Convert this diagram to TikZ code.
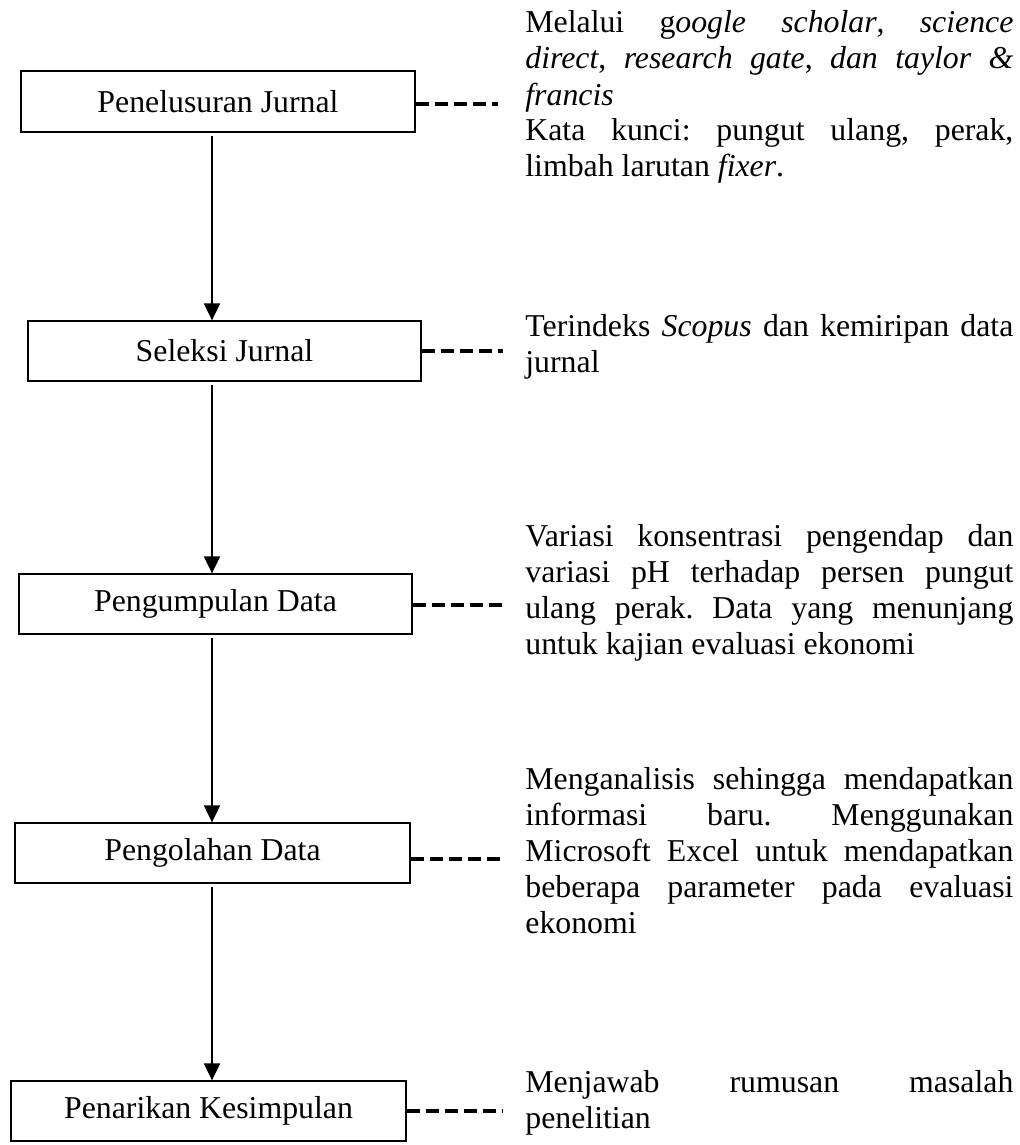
\documentclass[tikz,border=0pt]{standalone}
\usepackage{fontspec}
\setmainfont{Liberation Serif}
\usetikzlibrary{arrows.meta}
\begin{document}
\frenchspacing
\begin{tikzpicture}[x=0.5pt,y=-0.5pt,
  txt/.style={font=\fontsize{15.9}{18}\selectfont\frenchspacing},
  stepbox/.style={draw,line width=0.65pt,inner sep=0pt,txt},
  note/.style={txt,text width=244pt,align=justify,inner sep=0pt,anchor=base west},
  arr/.style={line width=1pt,-{Triangle[width=8pt,length=8.5pt]},shorten <=1.5pt},
  dsh/.style={line width=2pt,dash pattern=on 6.5pt off 3pt}]
\useasboundingbox (0,0) rectangle (1019,1145);
\node[stepbox,minimum width=197pt,minimum height=30.5pt] (b1) at (218,101.5) {Penelusuran Jurnal};
\node[stepbox,minimum width=196.5pt,minimum height=30pt] (b2) at (224.5,351) {Seleksi Jurnal};
\node[stepbox,minimum width=196.5pt,minimum height=30pt] (b3) at (215.5,604) {Pengumpulan Data};
\node[stepbox,minimum width=197.5pt,minimum height=30pt] (b4) at (212.5,853) {Pengolahan Data};
\node[stepbox,minimum width=197.5pt,minimum height=30pt] (b5) at (208.5,1111) {Penarikan Kesimpulan};
\coordinate (ax) at (212,0);
\draw[arr] (b1.south -| ax) -- (b2.north -| ax);
\draw[arr] (b2.south -| ax) -- (b3.north -| ax);
\draw[arr] (b3.south -| ax) -- (b4.north -| ax);
\draw[arr] (b4.south -| ax) -- (b5.north -| ax);
\coordinate (d1) at (498,104);
\coordinate (d2) at (503,351);
\coordinate (d3) at (505,605);
\coordinate (d4) at (505,859);
\coordinate (d5) at (503,1111);
\draw[dsh] (b1.east |- d1) -- (d1);
\draw[dsh] (b2.east |- d2) -- (d2);
\draw[dsh] (b3.east |- d3) -- (d3);
\draw[dsh] (b4.east |- d4) -- (d4);
\draw[dsh] (b5.east |- d5) -- (d5);
\node[note] (n1) at (525,33) {Melalui g\textit{oogle scholar}, \textit{science}\linebreak \textit{direct}, \textit{research gate}, \textit{dan taylor \&}\linebreak \textit{francis}\\ Kata kunci: pungut ulang, perak,\linebreak limbah larutan \textit{fixer}.};
\node[note] (n2) at (525,336) {Terindeks \textit{Scopus} dan kemiripan data jurnal};
\node[note] (n3) at (525,546) {Variasi konsentrasi pengendap dan\linebreak variasi pH terhadap persen pungut\linebreak ulang perak. Data yang menunjang\linebreak untuk kajian evaluasi ekonomi};
\node[note] (n4) at (525,789) {Menganalisis sehingga mendapatkan\linebreak informasi baru. Menggunakan\linebreak Microsoft Excel untuk mendapatkan\linebreak beberapa parameter pada evaluasi\linebreak ekonomi};
\node[note] (n5) at (525,1092) {Menjawab rumusan masalah\linebreak penelitian};
\end{tikzpicture}
\end{document}
